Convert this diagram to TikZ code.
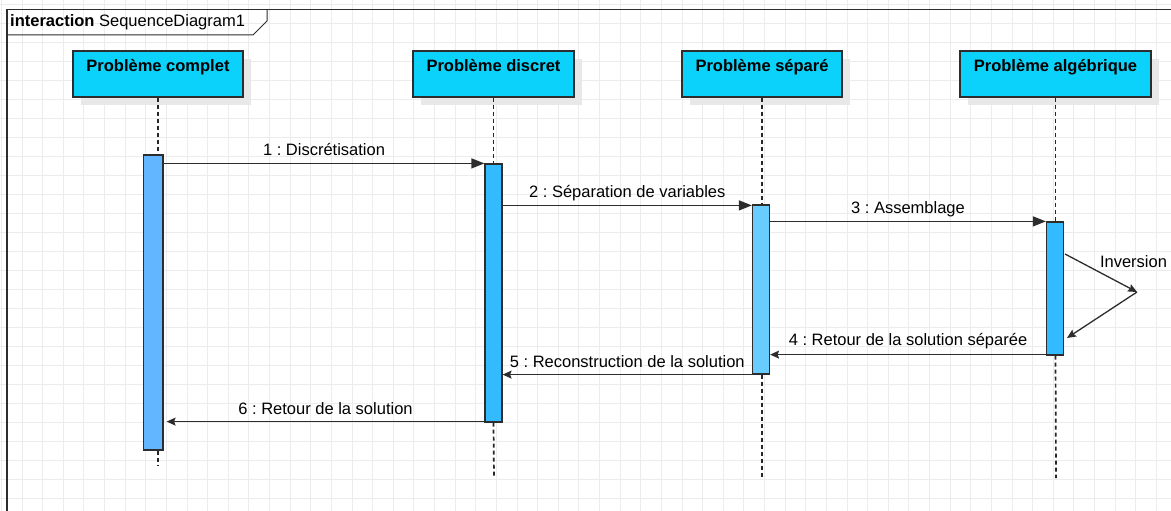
\documentclass[tikz,border=0pt]{standalone}
\usepackage{fontspec}
\setmainfont{Liberation Sans}
\frenchspacing
\usetikzlibrary{positioning,arrows.meta,calc,shadows}
\definecolor{headcyan}{RGB}{10,210,250}
\definecolor{actA}{RGB}{98,182,255}
\definecolor{actB}{RGB}{51,186,255}
\definecolor{actC}{RGB}{104,204,255}
\definecolor{gridgray}{RGB}{236,236,236}
\definecolor{edge}{RGB}{45,45,45}
\tikzset{
  head/.style={draw=edge,line width=1.2pt,fill=headcyan,inner xsep=0pt,inner ysep=0pt,text height=21pt,text depth=25pt,font=\fontsize{16.5}{19}\selectfont\bfseries,drop shadow={shadow xshift=8pt,shadow yshift=-8pt,fill=black!9,opacity=1}},
  activ/.style={draw=edge,line width=1.2pt,minimum width=17pt,inner sep=0pt},
  life/.style={draw=black!85,line width=1.7pt,dash pattern=on 4pt off 3pt},
  sync/.style={-{Triangle[length=13pt,width=10pt]},line width=1.3pt,draw=edge},
  reply/.style={-{Stealth[length=9pt,width=8pt,inset=1.5pt]},line width=1.3pt,draw=edge},
  msg/.style={font=\fontsize{16.5}{19}\selectfont,anchor=base,yshift=7.5pt,inner sep=0pt}
}
\begin{document}
\begin{tikzpicture}[x=1pt,y=-1pt]
\useasboundingbox (0,0) rectangle (1171,511);
\clip (0,0) rectangle (1171,511);
% grille de fond
\foreach \i in {0,...,57} \draw[gridgray,line width=0.8pt] ({1.375+20.625*\i},0) -- ({1.375+20.625*\i},511);
\foreach \j in {0,...,27} \draw[gridgray,line width=0.8pt] (0,{4+19*\j}) -- (1171,{4+19*\j});

% cadre de l'interaction
\draw[edge,line width=1.4pt] (7,520) -- (7,9.5) -- (1180,9.5);
\draw[edge,line width=1pt] (7,35) -- (253,35) -- (267,21) -- (267,9.5);
\node[font=\fontsize{16.5}{19}\selectfont,anchor=base west,inner sep=0pt] (titre) at (10,27) {\textbf{interaction} SequenceDiagram1};

% objets
\node[head,minimum width=170pt] (pc) at (158,74) {Problème complet};
\node[head,minimum width=161pt] (pd) at (493.5,74) {Problème discret};
\node[head,minimum width=160pt] (ps) at (762,74) {Problème séparé};
\node[head,minimum width=191pt] (pa) at (1055.5,74) {Problème algébrique};

% barres d'activation
\node[activ,fill=actA,minimum width=19.5pt,minimum height=295pt] (a1) at (153.25,302.5) {};
\node[activ,fill=actB,minimum height=258pt] (a2) at (493.5,293) {};
\node[activ,fill=actC,minimum height=169pt] (a3) at (761,289.5) {};
\node[activ,fill=actB,minimum height=133pt] (a4) at (1055,288.5) {};

% lignes de vie
\coordinate (e1) at (158,465);
\coordinate (e2) at (494,478);
\coordinate (e3) at (762,478);
\coordinate (e4) at (1056,478);
\draw[life] (pc.south) -- (pc.south |- a1.north);
\draw[life] (pc.south |- a1.south) -- (e1);
\draw[life] (pd.south) -- (pd.south |- a2.north);
\draw[life] (pd.south |- a2.south) -- (e2);
\draw[life] (ps.south) -- (ps.south |- a3.north);
\draw[life] (ps.south |- a3.south) -- (e3);
\draw[life] (pa.south) -- (pa.south |- a4.north);
\draw[life] (pa.south |- a4.south) -- (e4);

% messages
\draw[sync] (a1.east |- a2.north west) -- node[msg]{1 : Discrétisation} (a2.north west);
\draw[sync] ($(a2.east |- a3.north west)+(0,1)$) -- node[msg]{2 : Séparation de variables} ($(a3.north west)+(0,1)$);
\draw[sync] (a3.east |- a4.north west) -- node[msg]{3 : Assemblage} (a4.north west);

\coordinate (inv1) at (1065,254);
\coordinate (inv2) at (1137,292);
\coordinate (inv3) at (1067,338);
\draw[reply] (inv1) -- (inv2);
\draw[reply] (inv2) -- (inv3);
\node[font=\fontsize{16.5}{19}\selectfont,anchor=base,inner sep=0pt] (invtxt) at (1133.5,267) {Inversion};

\draw[reply] ($(a4.south west)+(0,-1)$) -- node[msg,yshift=1.5pt]{4 : Retour de la solution séparée} ($(a3.east |- a4.south west)+(0,-1)$);
\draw[reply] (a3.south west) -- node[msg]{5 : Reconstruction de la solution} (a2.east |- a3.south west);
\draw[reply] ($(a2.south west)+(0,-1)$) -- node[msg]{6 : Retour de la solution} ($(a1.east |- a2.south west)+(3,-1)$);
\end{tikzpicture}
\end{document}
